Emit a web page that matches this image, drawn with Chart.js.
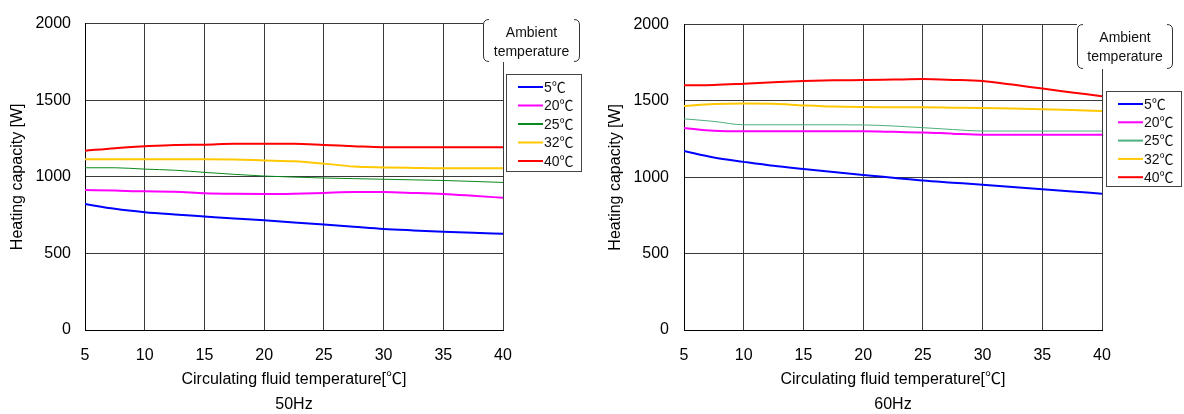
<!DOCTYPE html>
<html>
<head>
<meta charset="utf-8">
<script src="https://cdn.jsdelivr.net/npm/chart.js@4.4.1/dist/chart.umd.min.js"></script>
<style>
  html, body { margin: 0; padding: 0; background: #fff; }
  .wrap { position: absolute; top: 0; width: 592px; height: 414px; }
</style>
</head>
<body>
<div class="wrap" style="left:0"><canvas id="c50" width="592" height="414"></canvas></div>
<div class="wrap" style="left:592px"><canvas id="c60" width="592" height="414"></canvas></div>
<script>
// circulating fluid temperature [°C] sample points
const tempX = [5, 7.5, 10, 12.5, 15, 17.5, 20, 22.5, 25, 27.5, 30, 32.5, 35, 37.5, 40];
const ambientLabels = ['5℃', '20℃', '25℃', '32℃', '40℃'];

// 50Hz heating capacity [W]
const cap50_5  = [822, 791, 769, 754, 741, 728, 716, 702, 688, 674, 660, 650, 641, 634, 628];
const cap50_20 = [914, 910, 905, 903, 893, 889, 888, 890, 895, 900, 900, 895, 888, 876, 863];
const cap50_25 = [1059, 1059, 1050, 1043, 1029, 1016, 1005, 998, 992, 988, 984, 980, 976, 970, 963];
const cap50_32 = [1114, 1114, 1114, 1114, 1114, 1113, 1107, 1101, 1086, 1067, 1061, 1058, 1056, 1056, 1056];
const cap50_40 = [1170, 1187, 1199, 1208, 1210, 1215, 1215, 1215, 1208, 1200, 1193, 1193, 1193, 1193, 1193];

// 60Hz heating capacity [W]
const cap60_5  = [1172, 1129, 1101, 1075, 1054, 1034, 1015, 997, 979, 965, 951, 936, 921, 907, 893];
const cap60_20 = [1323, 1305, 1301, 1301, 1301, 1301, 1301, 1298, 1294, 1286, 1279, 1279, 1279, 1279, 1279];
const cap60_25 = [1383, 1366, 1344, 1344, 1344, 1344, 1343, 1336, 1325, 1313, 1303, 1303, 1303, 1303, 1303];
const cap60_32 = [1467, 1480, 1484, 1481, 1471, 1463, 1460, 1459, 1458, 1456, 1454, 1450, 1445, 1440, 1434];
const cap60_40 = [1602, 1605, 1613, 1622, 1630, 1635, 1637, 1640, 1643, 1638, 1630, 1607, 1581, 1556, 1531];

const FONT = "'Liberation Sans', 'Noto Sans CJK JP', Arial, sans-serif";

// legend box + "Ambient temperature" bracket, drawn on top of the chart
const boxLegend = {
  id: 'boxLegend',
  afterDraw(chart, args, opts) {
    const ctx = chart.ctx;
    ctx.save();
    // bracket box
    const a = opts.amb;
    ctx.fillStyle = '#fff';
    ctx.fillRect(a.x, a.y, a.w, a.h);
    ctx.strokeStyle = '#333';
    ctx.lineWidth = 1;
    const r = 6;
    ctx.beginPath();
    ctx.moveTo(a.x + r, a.y + 0.5);
    ctx.quadraticCurveTo(a.x + 0.5, a.y + 0.5, a.x + 0.5, a.y + r);
    ctx.lineTo(a.x + 0.5, a.y + a.h - r);
    ctx.quadraticCurveTo(a.x + 0.5, a.y + a.h - 0.5, a.x + r, a.y + a.h - 0.5);
    ctx.moveTo(a.x + a.w - r, a.y + 0.5);
    ctx.quadraticCurveTo(a.x + a.w - 0.5, a.y + 0.5, a.x + a.w - 0.5, a.y + r);
    ctx.lineTo(a.x + a.w - 0.5, a.y + a.h - r);
    ctx.quadraticCurveTo(a.x + a.w - 0.5, a.y + a.h - 0.5, a.x + a.w - r, a.y + a.h - 0.5);
    ctx.stroke();
    ctx.fillStyle = '#111';
    ctx.font = '14px ' + FONT;
    ctx.textAlign = 'center';
    ctx.textBaseline = 'middle';
    ctx.fillText('Ambient', a.x + a.w / 2, a.y + 14);
    ctx.fillText('temperature', a.x + a.w / 2, a.y + 33);

    // series legend
    const b = opts.box;
    ctx.fillStyle = '#fff';
    ctx.fillRect(b.x, b.y, b.w, b.h);
    ctx.strokeStyle = '#444';
    ctx.strokeRect(b.x + 0.5, b.y + 0.5, b.w, b.h);
    ctx.font = '14px ' + FONT;
    ctx.textAlign = 'left';
    chart.data.datasets.forEach((ds, i) => {
      const y = b.y + 13 + i * opts.gap;
      ctx.strokeStyle = ds.borderColor;
      ctx.lineWidth = 2;
      ctx.beginPath();
      ctx.moveTo(b.x + 12, y);
      ctx.lineTo(b.x + 37, y);
      ctx.stroke();
      ctx.fillStyle = '#111';
      ctx.fillText(ds.label, b.x + 38, y + 1);
    });
    ctx.restore();
  }
};

function makeChart(id, series, colors, hz, lay) {
  const datasets = series.map((arr, i) => ({
    label: ambientLabels[i],
    data: tempX.map((x, j) => ({ x, y: arr[j] })),
    borderColor: colors[i],
    borderWidth: i === 2 ? 1 : 2,
    pointRadius: 0,
    tension: 0.3,
    cubicInterpolationMode: 'monotone',
    fill: false
  }));

  new Chart(document.getElementById(id), {
    type: 'line',
    data: { datasets },
    plugins: [boxLegend],
    options: {
      responsive: false,
      animation: false,
      layout: { padding: { top: lay.top, right: lay.right, left: 0, bottom: 0 } },
      plugins: {
        legend: { display: false },
        tooltip: { enabled: false },
        boxLegend: { box: lay.box, amb: lay.amb, gap: lay.gap }
      },
      scales: {
        x: {
          type: 'linear',
          min: 5, max: 40,
          afterFit: s => { s.height = 84; },
          ticks: { stepSize: 5, color: '#000', padding: 16, font: { family: FONT, size: 16 } },
          grid: { color: '#3a3a3a', lineWidth: 1, drawTicks: false },
          border: { color: '#000', width: 1 },
          title: {
            display: true,
            text: ['Circulating fluid temperature[℃]', hz],
            color: '#000',
            font: { family: FONT, size: 16, lineHeight: 1.5625 },
            padding: { top: 0, bottom: -3.5 }
          }
        },
        y: {
          min: 0, max: 2000,
          afterFit: s => { s.width = lay.left; },
          ticks: { stepSize: 500, color: '#000', padding: lay.tickPad, font: { family: FONT, size: 16 }, callback: v => String(v) },
          grid: { color: '#3a3a3a', lineWidth: 1, drawTicks: false },
          border: { color: '#000', width: 1 },
          title: {
            display: true,
            text: 'Heating capacity [W]',
            color: '#000',
            font: { family: FONT, size: 16 },
            padding: { top: lay.titlePad, bottom: 0 }
          }
        }
      }
    }
  });
}

makeChart('c50',
  [cap50_5, cap50_20, cap50_25, cap50_32, cap50_40],
  ['#0000ff', '#ff00ff', '#0a8a1e', '#ffc800', '#ff0000'],
  '50Hz',
  { top: 17, right: 89, left: 85, tickPad: 14, titlePad: 8,
    box: { x: 506, y: 74, w: 75, h: 97 }, amb: { x: 483, y: 19, w: 97, h: 43 }, gap: 18.5 });

makeChart('c60',
  [cap60_5, cap60_20, cap60_25, cap60_32, cap60_40],
  ['#0000ff', '#ff00ff', '#4caf7d', '#ffc800', '#ff0000'],
  '60Hz',
  { top: 20, right: 82, left: 92, tickPad: 15, titlePad: 14,
    box: { x: 514, y: 91, w: 75, h: 95 }, amb: { x: 485, y: 24, w: 96, h: 45 }, gap: 18.3 });
</script>
</body>
</html>
